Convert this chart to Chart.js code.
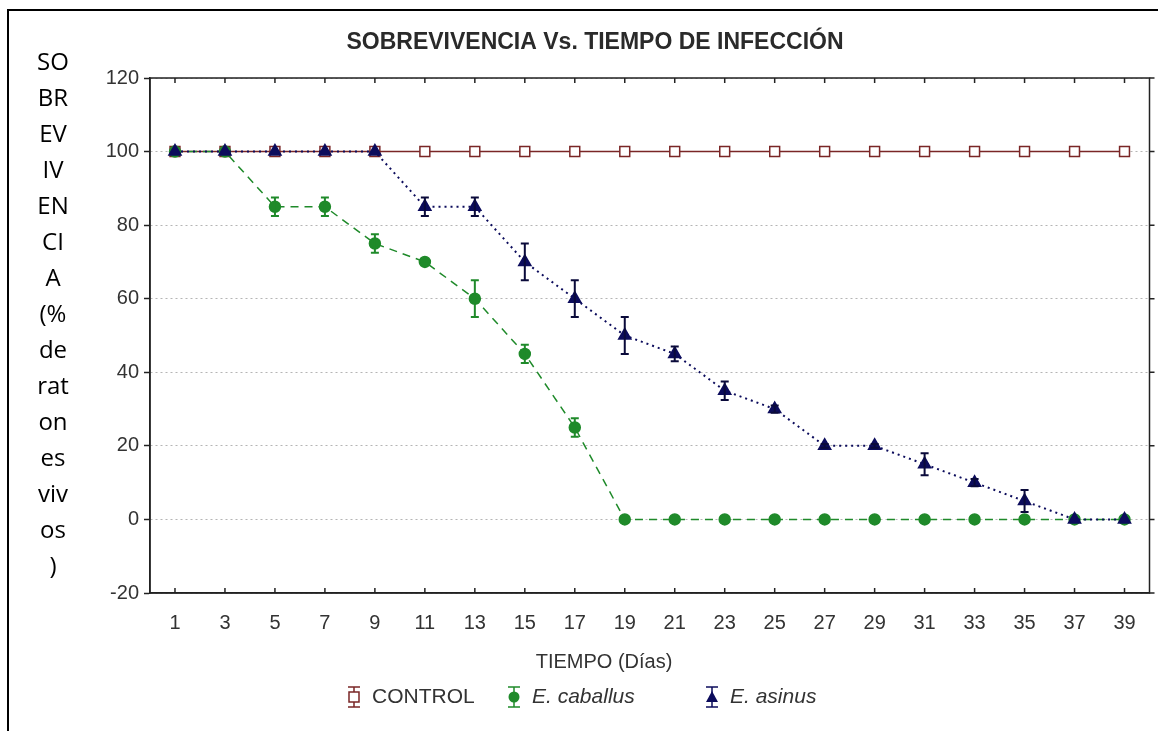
<!DOCTYPE html>
<html>
<head>
<meta charset="utf-8">
<script src="https://cdn.jsdelivr.net/npm/chart.js@4.4.1/dist/chart.umd.min.js"></script>
<style>
  body { margin: 0; background: #fff; }
  #wrap { width: 1158px; height: 731px; }
</style>
</head>
<body>
<div id="wrap"><canvas id="sobrevivenciaChart" width="1158" height="731"></canvas></div>
<script>
// datos
const dias = [1, 3, 5, 7, 9, 11, 13, 15, 17, 19, 21, 23, 25, 27, 29, 31, 33, 35, 37, 39];
const control = [100, 100, 100, 100, 100, 100, 100, 100, 100, 100, 100, 100, 100, 100, 100, 100, 100, 100, 100, 100];
const controlErr = [0, 0, 0, 0, 0, 0, 0, 0, 0, 0, 0, 0, 0, 0, 0, 0, 0, 0, 0, 0];
const caballus = [100, 100, 85, 85, 75, 70, 60, 45, 25, 0, 0, 0, 0, 0, 0, 0, 0, 0, 0, 0];
const caballusErr = [0, 0, 2.5, 2.5, 2.5, 0.5, 5, 2.5, 2.5, 0, 0, 0, 0, 0, 0, 0, 0, 0, 0, 0];
const asinus = [100, 100, 100, 100, 100, 85, 85, 70, 60, 50, 45, 35, 30, 20, 20, 15, 10, 5, 0, 0];
const asinusErr = [0, 0, 0, 0, 0, 2.5, 2.5, 5, 5, 5, 2, 2.5, 1, 0.5, 0.5, 3, 1, 3, 0, 0];

const tituloGrafico = 'SOBREVIVENCIA Vs. TIEMPO DE INFECCIÓN';
const tituloX = 'TIEMPO (Días)';
const tituloY = ['SO', 'BR', 'EV', 'IV', 'EN', 'CI', 'A', '(%', 'de', 'rat', 'on', 'es', 'viv', 'os', ')'];
const nombresSeries = ['CONTROL', 'E. caballus', 'E. asinus'];

const rojo = '#7a2626';
const verde = '#1f8a2a';
const azul = '#0c0c5c';
const fuente = '"Liberation Sans", Arial, sans-serif';

function puntos(valores) {
  return dias.map((d, i) => ({ x: d, y: valores[i] }));
}

function dibujarMarcador(ctx, tipo, x, y, color) {
  ctx.save();
  ctx.lineWidth = 1.5;
  ctx.strokeStyle = color;
  ctx.fillStyle = color;
  ctx.beginPath();
  if (tipo === 'rect') {
    ctx.fillStyle = '#fff';
    ctx.rect(x - 5, y - 5, 10, 10);
    ctx.fill();
    ctx.stroke();
  } else if (tipo === 'circle') {
    ctx.arc(x, y, 5.5, 0, Math.PI * 2);
    ctx.fill();
  } else {
    ctx.moveTo(x, y - 6);
    ctx.lineTo(x + 6, y + 5);
    ctx.lineTo(x - 6, y + 5);
    ctx.closePath();
    ctx.fill();
  }
  ctx.restore();
}

// barras de error dibujadas con la escala y
const errorBarsPlugin = {
  id: 'errorBars',
  afterDatasetsDraw(chart) {
    const ctx = chart.ctx;
    const yScale = chart.scales.y;
    for (let i = chart.data.datasets.length - 1; i >= 0; i--) {
      const ds = chart.data.datasets[i];
      const meta = chart.getDatasetMeta(i);
      ctx.save();
      ctx.strokeStyle = ds.barColor;
      ctx.lineWidth = 2;
      meta.data.forEach((pt, j) => {
        const e = ds.errores[j];
        if (!e) return;
        const top = yScale.getPixelForValue(ds.data[j].y + e);
        const bot = yScale.getPixelForValue(ds.data[j].y - e);
        ctx.beginPath();
        ctx.moveTo(pt.x, top); ctx.lineTo(pt.x, bot);
        ctx.moveTo(pt.x - 4, top); ctx.lineTo(pt.x + 4, top);
        ctx.moveTo(pt.x - 4, bot); ctx.lineTo(pt.x + 4, bot);
        ctx.stroke();
      });
      ctx.restore();
    }
  }
};

// marco, titulos y leyenda
const textosPlugin = {
  id: 'textos',
  afterDraw(chart) {
    const ctx = chart.ctx;
    const area = chart.chartArea;
    const xScale = chart.scales.x;
    const yScale = chart.scales.y;
    ctx.save();

    // borde exterior
    ctx.strokeStyle = '#000';
    ctx.lineWidth = 2;
    ctx.beginPath();
    ctx.moveTo(8, 731); ctx.lineTo(8, 10); ctx.lineTo(1158, 10);
    ctx.stroke();

    // marco del grafico
    ctx.strokeStyle = '#222';
    ctx.lineWidth = 1.5;
    ctx.strokeRect(area.left, area.top, area.right - area.left, area.bottom - area.top);
    ctx.beginPath();
    dias.forEach(d => {
      const px = xScale.getPixelForValue(d);
      ctx.moveTo(px, area.bottom); ctx.lineTo(px, area.bottom - 5);
      ctx.moveTo(px, area.top); ctx.lineTo(px, area.top + 5);
    });
    yScale.ticks.forEach(t => {
      const py = yScale.getPixelForValue(t.value);
      ctx.moveTo(area.right, py); ctx.lineTo(area.right + 5, py);
    });
    ctx.stroke();

    // titulo
    ctx.fillStyle = '#2a2a2a';
    ctx.font = 'bold 23px ' + fuente;
    ctx.textAlign = 'center';
    ctx.textBaseline = 'middle';
    ctx.fillText(tituloGrafico, 595, 43);

    // titulo eje y (texto partido)
    ctx.fillStyle = '#000';
    ctx.font = '24px "Open Sans", sans-serif';
    tituloY.forEach((t, i) => ctx.fillText(t, 53, 63 + i * 36));

    // titulo eje x
    ctx.fillStyle = '#333';
    ctx.font = '20px ' + fuente;
    ctx.fillText(tituloX, 604, 662);

    // leyenda
    const tipos = ['rect', 'circle', 'triangle'];
    const colores = [rojo, verde, azul];
    const fuentes = ['21px ' + fuente, 'italic 21px ' + fuente, 'italic 21px ' + fuente];
    const iconosX = [354, 514, 712];
    const ly = 697;
    ctx.textAlign = 'left';
    nombresSeries.forEach((n, i) => {
      const cx = iconosX[i];
      ctx.strokeStyle = colores[i];
      ctx.lineWidth = 1.5;
      ctx.beginPath();
      ctx.moveTo(cx, ly - 10); ctx.lineTo(cx, ly + 10);
      ctx.moveTo(cx - 6, ly - 10); ctx.lineTo(cx + 6, ly - 10);
      ctx.moveTo(cx - 6, ly + 10); ctx.lineTo(cx + 6, ly + 10);
      ctx.stroke();
      dibujarMarcador(ctx, tipos[i], cx, ly, colores[i]);
      ctx.fillStyle = '#333';
      ctx.font = fuentes[i];
      ctx.fillText(n, cx + 18, ly);
    });
    ctx.restore();
  }
};

const ctx = document.getElementById('sobrevivenciaChart').getContext('2d');
const sobrevivenciaChart = new Chart(ctx, {
  type: 'line',
  data: {
    datasets: [{
      label: nombresSeries[0],
      data: puntos(control),
      errores: controlErr,
      barColor: rojo,
      borderColor: rojo,
      borderWidth: 1.5,
      pointStyle: 'rect',
      pointRadius: 7,
      pointBackgroundColor: '#fff',
      pointBorderColor: rojo,
      pointBorderWidth: 1.5,
      order: 3
    }, {
      label: nombresSeries[1],
      data: puntos(caballus),
      errores: caballusErr,
      barColor: verde,
      borderColor: verde,
      borderWidth: 1.5,
      borderDash: [8, 6],
      pointStyle: 'circle',
      pointRadius: 5.5,
      pointBackgroundColor: verde,
      pointBorderColor: verde,
      order: 2
    }, {
      label: nombresSeries[2],
      data: puntos(asinus),
      errores: asinusErr,
      barColor: '#0a0a3a',
      borderColor: azul,
      borderWidth: 2,
      borderDash: [2, 4],
      pointStyle: 'triangle',
      pointRadius: 6.5,
      pointBackgroundColor: azul,
      pointBorderColor: azul,
      order: 1
    }]
  },
  options: {
    responsive: false,
    animation: false,
    layout: { padding: { top: 78, right: 4, left: 0, bottom: 0 } },
    plugins: {
      legend: { display: false },
      title: { display: false },
      tooltip: { enabled: false }
    },
    scales: {
      x: {
        type: 'linear',
        min: 0,
        max: 40,
        afterBuildTicks: scale => { scale.ticks = dias.map(v => ({ value: v })); },
        afterFit: scale => { scale.height = 138; },
        ticks: {
          autoSkip: false,
          maxRotation: 0,
          padding: 18,
          color: '#333',
          font: { family: fuente, size: 20 }
        },
        grid: { display: false, drawTicks: false },
        border: { color: '#222', width: 1.5 }
      },
      y: {
        min: -20,
        max: 120,
        afterFit: scale => { scale.width = 150; },
        ticks: {
          stepSize: 20,
          padding: 5,
          color: '#333',
          font: { family: fuente, size: 20 }
        },
        grid: {
          color: '#b5b5b5',
          lineWidth: 1,
          tickLength: 6,
          tickColor: '#222',
          tickWidth: 1.5,
          tickBorderDash: []
        },
        border: { color: '#222', width: 1.5, dash: [2, 3] }
      }
    }
  },
  plugins: [errorBarsPlugin, textosPlugin]
});
</script>
</body>
</html>
